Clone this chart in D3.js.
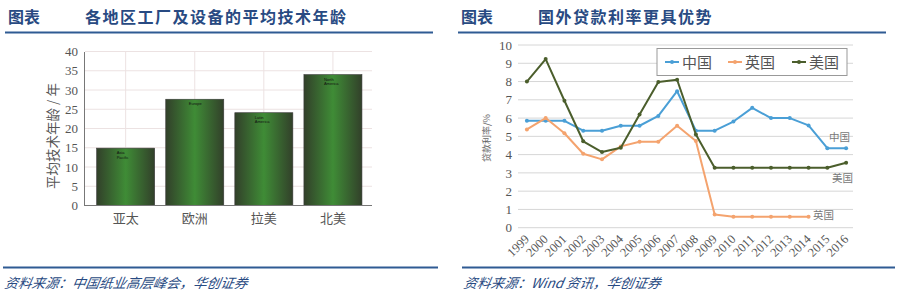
<!DOCTYPE html>
<html><head><meta charset="utf-8">
<script src="https://cdn.jsdelivr.net/npm/d3@7/dist/d3.min.js"></script>
<style>
html,body{margin:0;padding:0;background:#fff;}
svg{display:block;}
</style></head>
<body>
<svg id="c" width="900" height="298"></svg>
<script>
// ---- Left chart data ----
const regions = ["亚太", "欧洲", "拉美", "北美"];
const regionsEn = [["Asia", "Pacific"], ["Europe"], ["Latin", "America"], ["North", "America"]];
const techAge = [14.9, 27.6, 24.1, 34.0];
const leftTicks = [0, 5, 10, 15, 20, 25, 30, 35, 40];

// ---- Right chart data ----
const years = ["1999","2000","2001","2002","2003","2004","2005","2006","2007","2008","2009","2010","2011","2012","2013","2014","2015","2016"];
const china = [5.85, 5.85, 5.85, 5.31, 5.31, 5.58, 5.58, 6.12, 7.47, 5.31, 5.31, 5.81, 6.56, 6.0, 6.0, 5.6, 4.35, 4.35];
const uk    = [5.38, 6.0, 5.17, 4.05, 3.74, 4.45, 4.7, 4.7, 5.58, 4.75, 0.72, 0.6, 0.6, 0.6, 0.6, 0.6, null, null];
const us    = [8.0, 9.23, 6.95, 4.73, 4.14, 4.38, 6.2, 7.98, 8.1, 5.1, 3.28, 3.28, 3.28, 3.28, 3.28, 3.28, 3.28, 3.55];
const rightTicks = [0,1,2,3,4,5,6,7,8,9,10];
const seriesNames = ["中国", "英国", "美国"];
const seriesColors = ["#4a9fd6", "#f4a36e", "#4b5e2c"];

const svg = d3.select("#c");
const serif = "'Liberation Serif','DejaVu Serif','Noto Sans CJK SC',serif";
const cjk = "'Noto Sans CJK SC','Liberation Serif',serif";
const titleBlue = "#284a82";

// ---- Headers ----
function header(x0, x1, title) {
  svg.append("text").attr("x", x0 + 3).attr("y", 23).text("图表")
    .attr("font-family", cjk).attr("font-weight", "bold").attr("font-size", 16).attr("fill", titleBlue);
  svg.append("text").attr("x", x0 + 80).attr("y", 23).text(title)
    .attr("font-family", cjk).attr("font-weight", "bold").attr("font-size", 16).attr("letter-spacing", 1.5).attr("fill", titleBlue);
  svg.append("line").attr("x1", x0).attr("x2", x1).attr("y1", 32.5).attr("y2", 32.5)
    .attr("stroke", "#2f5b93").attr("stroke-width", 2);
}
header(5, 433, "各地区工厂及设备的平均技术年龄");
header(458, 886, "国外贷款利率更具优势");

function footer(x0, x1, txt) {
  svg.append("line").attr("x1", x0).attr("x2", x1).attr("y1", 267.5).attr("y2", 267.5)
    .attr("stroke", "#2f5b93").attr("stroke-width", 2);
  svg.append("text").attr("x", x0 + 1).attr("y", 288).text(txt)
    .attr("font-family", cjk).attr("font-style", "italic").attr("font-size", 13.5).attr("fill", titleBlue)
    .attr("transform", `skewX(-10)`).attr("transform-origin", `${x0} 288`);
}
footer(3, 438, "资料来源：中国纸业高层峰会，华创证券");
footer(462, 895, "资料来源：Wind 资讯，华创证券");

// ---- Left chart ----
const defs = svg.append("defs");
const grad = defs.append("linearGradient").attr("id", "barg").attr("x1", "0").attr("x2", "1").attr("y1", "0").attr("y2", "0");
grad.append("stop").attr("offset", "0%").attr("stop-color", "#32402a");
grad.append("stop").attr("offset", "50%").attr("stop-color", "#3f8c36");
grad.append("stop").attr("offset", "100%").attr("stop-color", "#32402a");

const xL = d3.scaleBand().domain(regions).range([85.6, 373]).padding(0.16);
const yL = d3.scaleLinear().domain([0, 40]).range([205.5, 51.5]);
const gL = svg.append("g");

// grid
gL.selectAll(".hg").data(leftTicks.slice(1)).join("line")
  .attr("x1", 85).attr("x2", 372).attr("y1", d => yL(d)).attr("y2", d => yL(d))
  .attr("stroke", "#ece2e2").attr("stroke-width", 1);
gL.selectAll(".vg").data(regions).join("line")
  .attr("x1", d => xL(d) + xL.bandwidth() / 2).attr("x2", d => xL(d) + xL.bandwidth() / 2)
  .attr("y1", yL(40)).attr("y2", yL(0))
  .attr("stroke", "#ece2e2").attr("stroke-width", 1);

// bars
gL.selectAll(".bar").data(techAge).join("rect")
  .attr("x", (d, i) => xL(regions[i])).attr("width", xL.bandwidth())
  .attr("y", d => yL(d)).attr("height", d => yL(0) - yL(d))
  .attr("fill", "url(#barg)").attr("stroke", "#3a3a3a").attr("stroke-width", 0.6);

// small english labels inside bars
regionsEn.forEach((lines, i) => {
  const t = gL.append("text")
    .attr("y", yL(techAge[i]) + 6).attr("font-family", "'Liberation Sans',sans-serif").attr("font-size", 4).attr("fill", "#111");
  lines.forEach((l, j) => t.append("tspan").attr("x", xL(regions[i]) + xL.bandwidth() / 2 - (lines.length > 1 ? 9 : 6)).attr("dy", j ? 4.5 : 0).text(l));
});

// axes
const axL = d3.axisLeft(yL).tickValues(leftTicks).tickSize(0).tickPadding(6);
gL.append("g").attr("transform", "translate(84,0)").call(axL)
  .call(g => g.select(".domain").attr("stroke", "#777"))
  .call(g => g.selectAll("text").attr("font-family", serif).attr("font-size", 13).attr("fill", "#555"));
gL.append("line").attr("x1", 84).attr("x2", 372).attr("y1", yL(0)).attr("y2", yL(0)).attr("stroke", "#777");
const axLB = d3.axisBottom(xL).tickSize(0).tickPadding(8);
gL.append("g").attr("transform", `translate(0,${yL(0)})`).call(axLB)
  .call(g => g.select(".domain").remove())
  .call(g => g.selectAll("text").attr("font-family", cjk).attr("font-size", 13).attr("fill", "#555"));
gL.append("text").attr("transform", `translate(58,136) rotate(-90)`)
  .attr("text-anchor", "middle").attr("font-family", cjk).attr("font-size", 13.5).attr("fill", "#555")
  .text("平均技术年龄 / 年");

// ---- Right chart ----
const xR = d3.scaleBand().domain(years).range([517.5, 855.5]);
const yR = d3.scaleLinear().domain([0, 10]).range([227.7, 45]);
const gR = svg.append("g");
gR.selectAll(".hg").data(rightTicks).join("line")
  .attr("x1", 518).attr("x2", 853).attr("y1", d => yR(d)).attr("y2", d => yR(d))
  .attr("stroke", "#d6d6d6").attr("stroke-width", 1);
const axR = d3.axisLeft(yR).tickValues(rightTicks).tickSize(0).tickPadding(6);
gR.append("g").attr("transform", "translate(518,0)").call(axR)
  .call(g => g.select(".domain").remove())
  .call(g => g.selectAll("text").attr("font-family", serif).attr("font-size", 13).attr("fill", "#555"));
const axRB = d3.axisBottom(xR).tickSize(0).tickPadding(0);
gR.append("g").attr("transform", `translate(0,${yR(0)})`).call(axRB)
  .call(g => g.select(".domain").remove())
  .call(g => g.selectAll("text").attr("font-family", serif).attr("font-size", 12.5).attr("fill", "#555")
    .attr("text-anchor", "end").attr("dy", "0.35em")
    .attr("transform", "translate(0,9) rotate(-45)"));
gR.append("text").attr("transform", `translate(490,138) rotate(-90)`)
  .attr("text-anchor", "middle").attr("font-family", cjk).attr("font-size", 9).attr("fill", "#666")
  .text("贷款利率/%");

const cx = (d, i) => xR(years[i]) + xR.bandwidth() / 2;
const line = d3.line().defined(d => d != null).x((d, i) => cx(d, i)).y(d => yR(d));
[china, uk, us].forEach((s, k) => {
  gR.append("path").datum(s).attr("d", line).attr("fill", "none")
    .attr("stroke", seriesColors[k]).attr("stroke-width", 2).attr("stroke-linejoin", "round");
  gR.selectAll(".pt" + k).data(s.map((v, i) => ({ v, i })).filter(d => d.v != null)).join("circle")
    .attr("cx", d => cx(d.v, d.i)).attr("cy", d => yR(d.v)).attr("r", 2).attr("fill", seriesColors[k]);
});

// legend
gR.append("rect").attr("x", 657).attr("y", 48.5).attr("width", 190).attr("height", 27)
  .attr("fill", "#fff").attr("stroke", "#999").attr("stroke-width", 1);
const legX = [665, 728, 792];
seriesNames.forEach((n, k) => {
  gR.append("line").attr("x1", legX[k]).attr("x2", legX[k] + 14).attr("y1", 62).attr("y2", 62)
    .attr("stroke", seriesColors[k]).attr("stroke-width", 2);
  gR.append("circle").attr("cx", legX[k] + 7).attr("cy", 62).attr("r", 2).attr("fill", seriesColors[k]);
  gR.append("text").attr("x", legX[k] + 17).attr("y", 67.5).text(n)
    .attr("font-family", cjk).attr("font-size", 15).attr("fill", "#555");
});

// end labels
const endLab = [["中国", 829, 141], ["美国", 832, 182], ["英国", 813, 219]];
endLab.forEach(([t, x, y]) => gR.append("text").attr("x", x).attr("y", y).text(t)
  .attr("font-family", cjk).attr("font-size", 10.5).attr("fill", "#777"));
</script>
</body></html>
